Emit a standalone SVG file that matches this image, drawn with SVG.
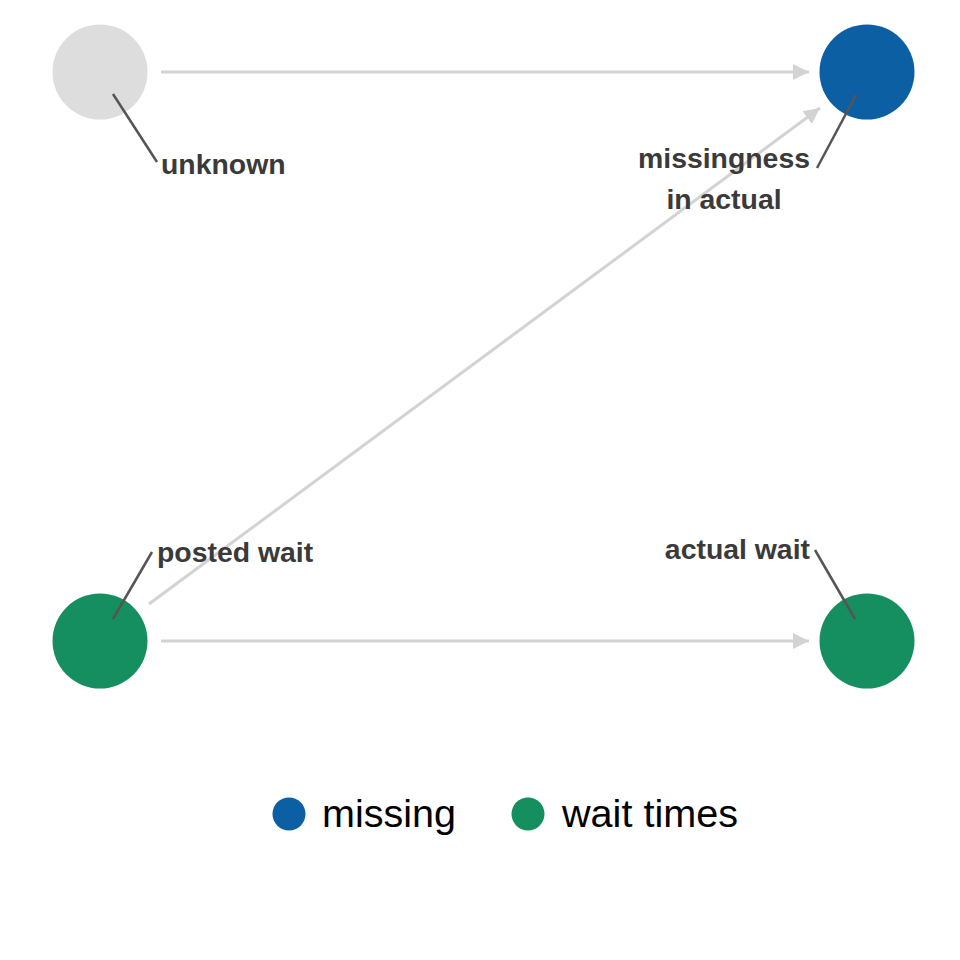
<svg xmlns="http://www.w3.org/2000/svg" width="960" height="960" viewBox="0 0 960 960">
<style>
.edge{stroke:#d3d3d3;stroke-width:3;fill:none}
.lead{stroke:#555555;stroke-width:2.5;fill:none}
.lbl{font-family:"Liberation Sans",Arial,sans-serif;font-weight:bold;font-size:28.4px;fill:#3a3a3a}
.leg{font-family:"Liberation Sans",Arial,sans-serif;font-size:38px;fill:#000}
</style>
<defs>
<marker id="arr" viewBox="0 0 10 10" refX="10" refY="5" markerWidth="16" markerHeight="16" markerUnits="userSpaceOnUse" orient="auto">
<path d="M0,0 L10,5 L0,10 Z" fill="#d3d3d3"/>
</marker>
</defs>
<rect width="960" height="960" fill="#ffffff"/>
<g id="connectors">
<line class="edge" x1="161" y1="72" x2="809" y2="72" marker-end="url(#arr)"/>
<line class="edge" x1="149" y1="604" x2="820" y2="108" marker-end="url(#arr)"/>
<line class="edge" x1="161" y1="641" x2="809" y2="641" marker-end="url(#arr)"/>
</g>
<g id="node-unknown">
<circle cx="100" cy="72" r="47.5" fill="#dddddd"/>
<line class="lead" x1="113" y1="94" x2="157" y2="162"/>
<text class="lbl" x="161" y="174">unknown</text>
</g>
<g id="node-missingness">
<circle cx="867" cy="72" r="47.5" fill="#0d5fa3"/>
<line class="lead" x1="856" y1="95" x2="817" y2="168"/>
<text class="lbl" x="724" y="168" text-anchor="middle">missingness</text>
<text class="lbl" x="724" y="209" text-anchor="middle">in actual</text>
</g>
<g id="node-posted">
<circle cx="100" cy="641" r="47.5" fill="#168f60"/>
<line class="lead" x1="113" y1="619" x2="152" y2="552"/>
<text class="lbl" x="157" y="562">posted wait</text>
</g>
<g id="node-actual">
<circle cx="867" cy="641" r="47.5" fill="#168f60"/>
<line class="lead" x1="855" y1="619" x2="815" y2="550"/>
<text class="lbl" x="810" y="559" text-anchor="end">actual wait</text>
</g>
<g id="legend">
<circle cx="289" cy="814" r="16.5" fill="#0d5fa3"/>
<text class="leg" x="322" y="827" textLength="134" lengthAdjust="spacingAndGlyphs">missing</text>
<circle cx="528" cy="814" r="16.5" fill="#168f60"/>
<text class="leg" x="562" y="827" textLength="176" lengthAdjust="spacingAndGlyphs">wait times</text>
</g>
</svg>
